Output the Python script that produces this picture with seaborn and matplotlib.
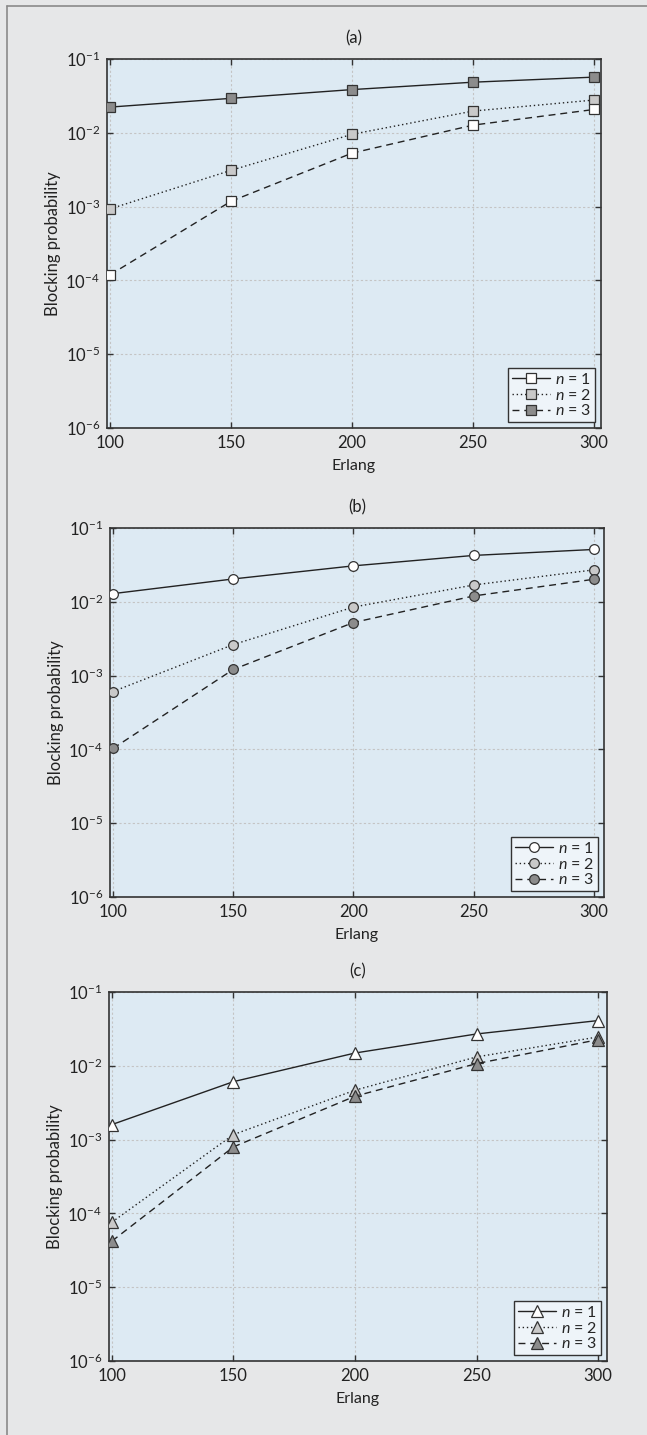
import numpy as np
import pandas as pd
import matplotlib.pyplot as plt
from matplotlib.lines import Line2D
from matplotlib.ticker import NullLocator
import seaborn as sns

# Dados
erlang = [100, 150, 200, 250, 300]
rotulos = ['$n$ = 1', '$n$ = 2', '$n$ = 3']
titulos = ['(a)', '(b)', '(c)']

# (a)
a_n1 = [0.0223, 0.0293, 0.0385, 0.0485, 0.0568]
a_n2 = [0.00093, 0.0031, 0.00954, 0.0197, 0.0278]
a_n3 = [0.000119, 0.00118, 0.0053, 0.0127, 0.0207]
# (b)
b_n1 = [0.0129, 0.0204, 0.0307, 0.0425, 0.0512]
b_n2 = [0.000608, 0.00263, 0.00848, 0.0169, 0.0271]
b_n3 = [0.000103, 0.00121, 0.00524, 0.0120, 0.0202]
# (c)
c_n1 = [0.0016, 0.0061, 0.0149, 0.027, 0.041]
c_n2 = [0.0000762, 0.00117, 0.00467, 0.0132, 0.0246]
c_n3 = [0.0000422, 0.000797, 0.00387, 0.0107, 0.0226]

sns.set_theme(style='ticks')
plt.rcParams['font.family'] = ['Lato', 'DejaVu Sans']
plt.rcParams['mathtext.fontset'] = 'custom'
plt.rcParams['mathtext.rm'] = 'Lato'
plt.rcParams['mathtext.it'] = 'Lato:italic'

BRANCO = '#ffffff'
CLARO = '#c9c9c9'
ESCURO = '#8c8c8c'
estilos = ['-', (0, (1, 2)), (0, (5, 3.5))]

W, H = 647, 1435
fig = plt.figure(figsize=(W / 100, H / 100), dpi=100, facecolor='#e6e7e8')

# (posicao em px: esquerda, direita, topo), xlim
paineis = [
    ([a_n1, a_n2, a_n3], 's', [ESCURO, CLARO, BRANCO], [BRANCO, CLARO, ESCURO], (107, 601, 59), (98.76, 302.9)),
    ([b_n1, b_n2, b_n3], 'o', [BRANCO, CLARO, ESCURO], [BRANCO, CLARO, ESCURO], (110, 604, 528), (98.75, 304.2)),
    ([c_n1, c_n2, c_n3], '^', [BRANCO, CLARO, ESCURO], [BRANCO, CLARO, ESCURO], (109, 607, 992), (98.77, 303.7)),
]

altura = 369
for i, (series, mk, cores, cores_leg, (x0, x1, topo), xlim) in enumerate(paineis):
    ax = fig.add_axes([x0 / W, 1 - (topo + altura) / H, (x1 - x0) / W, altura / H])
    ax.set_facecolor('#ddeaf3')
    ms = 8 if mk == '^' else 7
    for vals, ls, fc in zip(series, estilos, cores):
        sns.lineplot(x=erlang, y=vals, ax=ax, color='#222222', linestyle=ls, linewidth=1,
                     marker=mk, markersize=ms, markerfacecolor=fc, markeredgecolor='#333333',
                     markeredgewidth=0.9, zorder=3)
    ax.set_yscale('log')
    ax.set_ylim(1e-6, 1e-1)
    ax.set_xlim(*xlim)
    ax.set_xticks(erlang)
    ax.set_yticks([1e-6, 1e-5, 1e-4, 1e-3, 1e-2, 1e-1])
    ax.yaxis.set_minor_locator(NullLocator())
    ax.grid(True, color='#c4c4c4', linestyle=(0, (2, 2)), linewidth=0.8)
    ax.tick_params(direction='in', top=True, right=True, length=4, width=1,
                   color='#333333', labelsize=12, pad=5, labelcolor='#222222')
    for s in ax.spines.values():
        s.set_color('#333333')
        s.set_linewidth(1.2)
    ax.set_title(titulos[i], fontsize=12, color='#222222', pad=11)
    ax.set_xlabel('Erlang', fontsize=11.5, color='#222222', labelpad=6)
    ax.set_ylabel('Blocking probability', fontsize=12, color='#222222', labelpad=3)

    handles = [Line2D([0], [0], color='#222222', linestyle=ls, linewidth=1, marker=mk,
                      markersize=ms, markerfacecolor=fc, markeredgecolor='#333333',
                      markeredgewidth=0.9)
               for ls, fc in zip(estilos, cores_leg)]
    leg = ax.legend(handles, rotulos, loc='lower right', fontsize=11.5, frameon=True,
                    fancybox=False, framealpha=1, facecolor='#eef4f9', edgecolor='#333333',
                    handlelength=2.4, handletextpad=0.3, labelspacing=0.05, borderpad=0.25,
                    borderaxespad=0.35)
    leg.get_frame().set_linewidth(1.0)

# moldura cinza (topo e esquerda)
fig.add_artist(Line2D([7 / W, 1], [1 - 6 / H, 1 - 6 / H], transform=fig.transFigure,
                      color='#8a8a8a', linewidth=1.2))
fig.add_artist(Line2D([7 / W, 7 / W], [0, 1 - 6 / H], transform=fig.transFigure,
                      color='#8a8a8a', linewidth=1.2))

fig.savefig('out.png', dpi=100, facecolor=fig.get_facecolor())
